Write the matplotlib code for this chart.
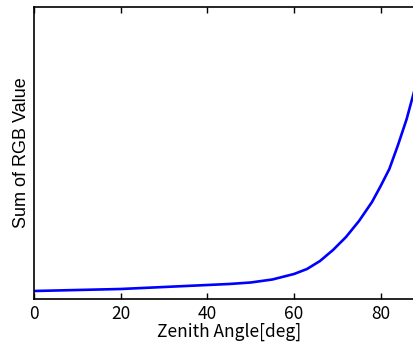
import numpy as np
import matplotlib
matplotlib.use('Agg')
import matplotlib.pyplot as plt

# zenith angle [deg] and sum of RGB (relative units)
angle = [0, 10, 20, 30, 40, 45, 50, 55, 60, 63, 66, 69, 72, 75, 78, 80, 82, 84, 86, 88, 90]
rgb_sum = [8, 9, 10, 12, 14, 15, 16.5, 19.5, 25, 30, 38, 49, 62, 78, 97, 113, 130, 154, 180, 212, 250]

jp_font = ['Noto Sans CJK JP', 'DejaVu Sans']

fig = plt.figure(figsize=(4.14, 3.43), dpi=100)
# axes run past the right edge of the picture, as in the original
ax = fig.add_axes([34 / 414, 44 / 343, 390 / 414, 292 / 343])

ax.plot(angle, rgb_sum, color='#0000ff', linewidth=1.9)

ax.set_xlim(0, 90)
ax.set_ylim(0, 292)
ax.set_xticks([0, 20, 40, 60, 80])
ax.set_yticks([])
ax.tick_params(axis='x', direction='in', top=True, length=4, width=1, pad=4)
for lab in ax.get_xticklabels():
    lab.set_family(jp_font)
    lab.set_fontsize(12.5)
for sp in ax.spines.values():
    sp.set_linewidth(1.2)

ax.set_xlabel('Zenith Angle[deg]', family=jp_font, fontsize=12.5, labelpad=0)
ax.set_ylabel('Sum of RGB Value', family=['Liberation Sans', 'DejaVu Sans'], fontsize=13, labelpad=3)

fig.savefig('out.png', dpi=100)
